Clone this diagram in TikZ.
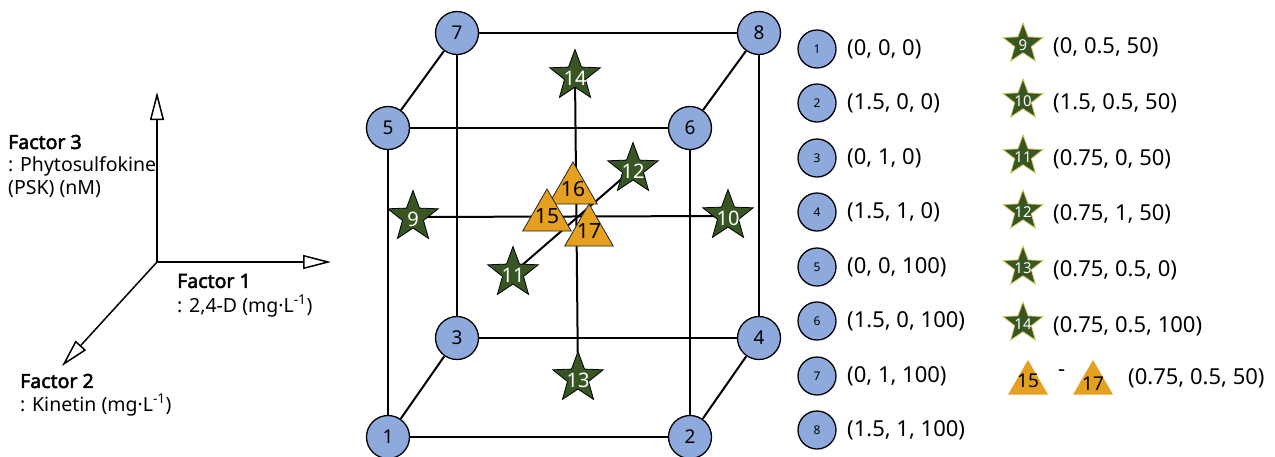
\documentclass[tikz,border=0pt]{standalone}
\usepackage{fontspec}
\setmainfont{Noto Sans}[AutoFakeBold=2.5]
\usetikzlibrary{shapes.geometric,arrows.meta,backgrounds}
\definecolor{cblue}{HTML}{8EA9DB}
\definecolor{sgreen}{HTML}{375623}
\definecolor{torange}{HTML}{E5A020}
\definecolor{syellow}{HTML}{D8C860}
\begin{document}
\begin{tikzpicture}[x=1pt,y=-1pt,
  vert/.style={circle,draw=black,line width=1.3pt,fill=cblue,minimum size=43pt,inner sep=0pt,font=\fontsize{19}{22}\selectfont},
  lvert/.style={circle,draw=black,line width=1.3pt,fill=cblue,minimum size=38pt,inner sep=0pt,font=\fontsize{12}{14}\selectfont},
  cstar/.style={star,star points=5,star point ratio=2.4,fill=sgreen,draw=black,line width=0.8pt,minimum size=53pt,inner sep=0pt},
  lstar/.style={star,star points=5,star point ratio=2.4,fill=sgreen,draw=syellow,line width=0.8pt,minimum size=42pt,inner sep=0pt},
  stxt/.style={text=white,inner sep=0pt,font=\fontsize{20}{22}\selectfont},
  lstxt/.style={text=white,inner sep=0pt,font=\fontsize{15}{17}\selectfont},
  tri/.style={regular polygon,regular polygon sides=3,fill=torange,draw=black!85,line width=0.8pt,minimum size=56pt,inner sep=0pt},
  ltri/.style={regular polygon,regular polygon sides=3,fill=torange,minimum size=46pt,inner sep=0pt},
  ttxt/.style={text=black,inner sep=0pt,font=\fontsize{21}{23}\selectfont},
  ltxt/.style={anchor=west,inner sep=0pt,font=\fontsize{22}{24}\selectfont},
  atxt/.style={anchor=west,inner sep=0pt,font=\fontsize{19.5}{22}\selectfont},
  btxt/.style={anchor=west,inner sep=0pt,font=\fontsize{19.5}{22}\selectfont\bfseries},
  cedge/.style={line width=2pt},
  axis/.style={line width=1.5pt,-{Triangle[open,fill=white,length=28pt,width=14pt]}}
]
\useasboundingbox (0,0) rectangle (1275,456);

% axes
\coordinate (o) at (157,262);
\coordinate (ax3) at (157,92);
\coordinate (ax1) at (331,262);
\coordinate (ax2) at (62,366);
\draw[axis] (o) -- (ax3);
\draw[axis] (o) -- (ax1);
\draw[axis] (o) -- (ax2);
\node[btxt] (f3) at (8,142) {Factor 3};
\node[atxt] (f3a) at (8,166) {: Phytosulfokine};
\node[atxt] (f3b) at (8,189) {(PSK) (nM)};
\node[btxt] (f1) at (177,281) {Factor 1};
\node[atxt] (f1a) at (177,306) {: 2,4-D (mg·L\textsuperscript{-1})};
\node[btxt] (f2) at (20,381) {Factor 2};
\node[atxt] (f2a) at (20,405) {: Kinetin (mg·L\textsuperscript{-1})};

% cube vertices
\node[vert] (v1) at (388,437) {1};
\node[vert] (v2) at (690,437) {2};
\node[vert] (v3) at (457,338) {3};
\node[vert] (v4) at (759,338) {4};
\node[vert] (v5) at (388,128) {5};
\node[vert] (v6) at (690,128) {6};
\node[vert] (v7) at (457,33) {7};
\node[vert] (v8) at (759,33) {8};

% interior points
\node[cstar,label={[stxt,yshift=-2pt]center:9}] (s9) at (413,217) {};
\node[cstar,label={[stxt,yshift=-2pt]center:10}] (s10) at (728,216) {};
\node[cstar,label={[stxt,yshift=-2pt]center:11}] (s11) at (513,273) {};
\node[cstar,label={[stxt,yshift=-2pt]center:12}] (s12) at (633,169) {};
\node[cstar,label={[stxt,yshift=-2pt]center:13}] (s13) at (578,378) {};
\node[cstar,label={[stxt,yshift=-2pt]center:14}] (s14) at (575,76) {};

\node[tri,label={[ttxt,yshift=1pt]center:16}] (t16) at (573,190) {};
\node[tri,label={[ttxt,yshift=1pt]center:15}] (t15) at (547,217) {};
\node[tri,label={[ttxt,yshift=1pt]center:17}] (t17) at (589,232) {};

\begin{scope}[on background layer]
\draw[cedge] (v1) -- (v2);
\draw[cedge] (v1) -- (v3);
\draw[cedge] (v1) -- (v5);
\draw[cedge] (v2) -- (v4);
\draw[cedge] (v2) -- (v6);
\draw[cedge] (v3) -- (v4);
\draw[cedge] (v3) -- (v7);
\draw[cedge] (v4) -- (v8);
\draw[cedge] (v5) -- (v6);
\draw[cedge] (v5) -- (v7);
\draw[cedge] (v6) -- (v8);
\draw[cedge] (v7) -- (v8);
\draw[cedge] (s9.center) -- (s10.center);
\draw[cedge] (s11.center) -- (s12.center);
\draw[cedge] (s14.center) -- (s13.center);
\end{scope}

% legend: vertices
\foreach \n/\y/\t in {1/49/{(0, 0, 0)},2/103/{(1.5, 0, 0)},3/158/{(0, 1, 0)},4/212/{(1.5, 1, 0)},5/267/{(0, 0, 100)},6/321/{(1.5, 0, 100)},7/376/{(0, 1, 100)},8/430/{(1.5, 1, 100)}}{
  \node[lvert] (lv\n) at (817,\y) {\n};
  \node[ltxt] (lt\n) at (847,\y) {\t};
}
% legend: stars
\foreach \n/\y/\t in {9/44/{(0, 0.5, 50)},10/100/{(1.5, 0.5, 50)},11/156/{(0.75, 0, 50)},12/211/{(0.75, 1, 50)},13/267/{(0.75, 0.5, 0)},14/323/{(0.75, 0.5, 100)}}{
  \node[lstar,label={[lstxt,yshift=-1pt]center:\n}] (ls\n) at (1023,\y) {};
  \node[ltxt] (lst\n) at (1053,\y+3) {\t};
}
% legend: triangles
\node[ltri,label={[ttxt,font=\fontsize{19}{21}\selectfont,yshift=2pt]center:15}] (lt15) at (1028,383) {};
\node[ltxt] (ldash) at (1058,373) {-};
\node[ltri,label={[ttxt,font=\fontsize{19}{21}\selectfont,yshift=-1pt]center:17}] (lt17) at (1093,383) {};
\node[ltxt] (ltt) at (1128,378) {(0.75, 0.5, 50)};
\end{tikzpicture}
\end{document}
